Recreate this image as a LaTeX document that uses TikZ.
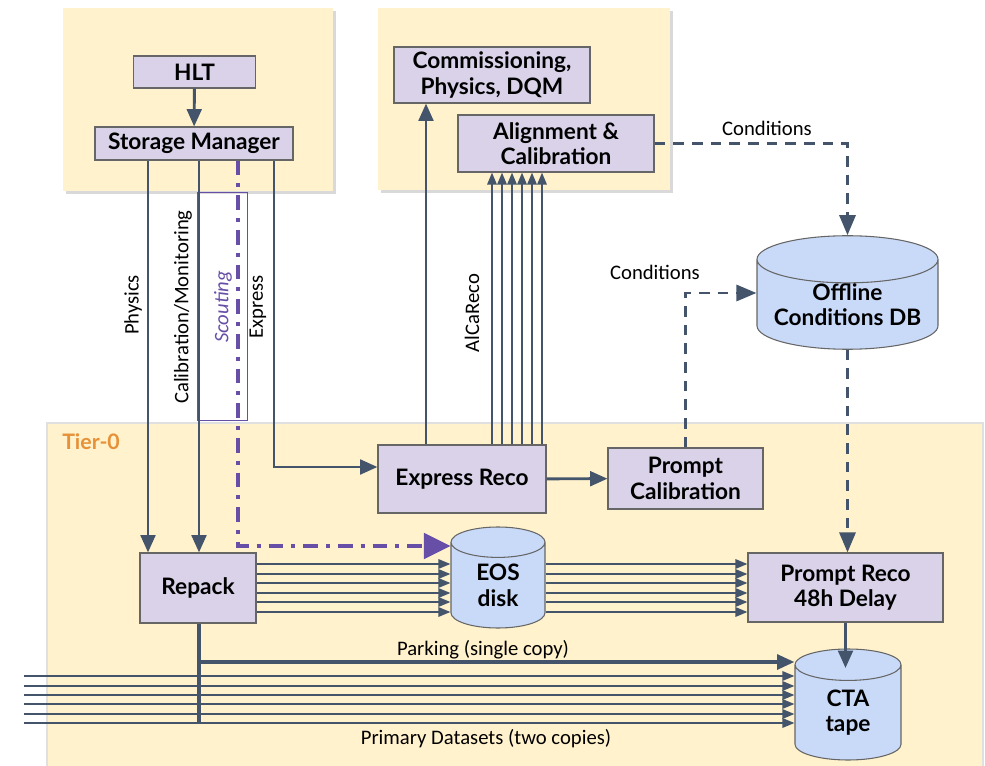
\documentclass[tikz,border=0pt]{standalone}
\usepackage{fontspec}
\setmainfont{Carlito}
\newfontfamily\boxfont{Lato}
\usepackage{tikz}
\usetikzlibrary{arrows.meta,shapes.geometric,backgrounds}

\definecolor{panelfill}{HTML}{FFF2CC}
\definecolor{boxfill}{HTML}{D9D2E9}
\definecolor{boxline}{HTML}{666666}
\definecolor{cylfill}{HTML}{C9DAF8}
\definecolor{flow}{HTML}{44546A}
\definecolor{scout}{HTML}{674EA7}
\definecolor{tierorange}{HTML}{E69138}

\tikzset{
  procbox/.style={draw=boxline, fill=boxfill, line width=0.8pt, inner sep=0pt, align=center,
    font=\boxfont\bfseries\fontsize{17}{19}\selectfont},
  store/.style={cylinder, shape border rotate=90, aspect=0.7, anchor=shape center, draw=boxline, fill=cylfill,
    line width=0.8pt, inner sep=0pt, align=center, font=\boxfont\bfseries\fontsize{17}{19}\selectfont},
  flowline/.style={draw=flow, line width=2.2pt},
  flowarrow/.style={flowline, -{Triangle[length=13pt,width=11pt]}},
  bundle/.style={draw=flow, line width=1.5pt, -{Triangle[length=9pt,width=7pt]}},
  conddash/.style={draw=flow, line width=2.2pt, dash pattern=on 8pt off 6pt, -{Triangle[length=15pt,width=12pt]}},
  scoutline/.style={draw=scout, line width=3pt, dash pattern=on 11pt off 6pt on 3pt off 6pt, -{Triangle[length=20pt,width=19pt]}},
  lbl/.style={font=\fontsize{15.5}{17}\selectfont, inner sep=0pt},
  vlbl/.style={lbl, rotate=90},
}

\begin{document}
\begin{tikzpicture}[x=0.75pt,y=0.75pt,yscale=-1,xscale=1]
\path[use as bounding box] (0,0) rectangle (985,766);

%Panels with shadow
\fill[black!15] (66,11) rectangle (336,194);
\fill[panelfill] (63,8) rectangle (333,191);
\fill[black!15] (381,11) rectangle (673,193);
\fill[panelfill] (378,8) rectangle (670,190);
\fill[black!12] (46,422) rectangle (984,766);
\fill[panelfill] (48,424) rectangle (982,766);

% Text Node
\node[anchor=west, inner sep=0pt, text=tierorange, font=\boxfont\bfseries\fontsize{16}{18}\selectfont] (tier) at (62,442) {Tier-0};

%Boxes
\node[procbox, minimum width=92pt, minimum height=24pt] (hlt) at (194.5,72) {HLT};
\node[procbox, minimum width=148.5pt, minimum height=24.75pt] (sm) at (194,143.5) {Storage Manager};
\node[procbox, minimum width=147pt, minimum height=42pt] (comm) at (492,75) {Commissioning,\\Physics, DQM};
\node[procbox, minimum width=147pt, minimum height=42.75pt] (align) at (556,143.5) {Alignment \&\\Calibration};
\node[procbox, minimum width=126pt, minimum height=51pt] (exreco) at (462,479) {Express Reco};
\node[procbox, minimum width=116.25pt, minimum height=45.75pt] (pcal) at (685.5,478.5) {Prompt\\Calibration};
\node[procbox, minimum width=87pt, minimum height=52.5pt] (repack) at (198,588) {Repack};
\node[procbox, minimum width=146.25pt, minimum height=51.75pt] (preco) at (845.5,587.5) {Prompt Reco\\48h Delay};

%Storage
\node[store, minimum width=70.5pt, minimum height=75.75pt] (eos) at (498,577.5) {EOS\\disk};
\node[store, minimum width=79.5pt, minimum height=83.25pt] (cta) at (848,704.5) {CTA\\tape};
\node[store, aspect=0.32, minimum width=135.75pt, minimum height=83.25pt] (db) at (847.5,292.5) {Offline\\Conditions DB};

%Helper coordinates
\coordinate (physx) at (148,0);
\coordinate (calx) at (199,0);
\coordinate (scoutx) at (238,0);
\coordinate (expx) at (274,0);
\coordinate (expy) at (0,467);
\coordinate (scouty) at (0,546);
\coordinate (commx) at (426,0);
\coordinate (condy) at (0,293);
\coordinate (parkx) at (199,0);
\coordinate (parky) at (0,662);
\coordinate (pdlast) at (0,723);
\coordinate (pdsrc) at (24,0);
\coordinate (ctatop) at (0,668);

%Scouting frame
\draw[scout, line width=0.6pt] (197,192) rectangle (247,420);

%Storage manager streams
\draw[flowarrow] (hlt) -- (sm);
\draw[flowarrow] (sm.south -| physx) -- (repack.north -| physx);
\draw[flowarrow] (sm.south -| calx) -- (repack.north -| calx);
\draw[scoutline] (sm.south -| scoutx) |- (eos.west |- scouty);
\draw[flowarrow] (sm.south -| expx) |- (exreco.west |- expy);

% Text Node
\node[vlbl] (physlbl) at (133,305) {Physics};
\node[vlbl] (callbl) at (183,307) {Calibration/Monitoring};
\node[vlbl, text=scout, font=\itshape\fontsize{15.5}{17}\selectfont] (scoutlbl) at (223,307) {Scouting};
\node[vlbl] (explbl) at (258,307) {Express};

%Express path
\draw[flowarrow] (exreco.north -| commx) -- (comm.south -| commx);
\foreach \x in {492,502,...,542}
  \draw[bundle] (exreco.north -| \x,0) -- (align.south -| \x,0);
\node[vlbl] (alcalbl) at (472,313) {AlCaReco};
\draw[flowarrow] (exreco) -- (pcal);

%Conditions
\draw[conddash] (align.east) -| (db.north);
\node[lbl] (condA) at (767,128) {Conditions};
\draw[conddash] (pcal.north) |- (db.west |- condy);
\node[lbl] (condB) at (655,272) {Conditions};
\draw[conddash] (db.south) -- (db.south |- preco.north);

%Repack bundles
\foreach \y in {564,574,583,593,602,612}{
  \draw[bundle] (repack.east |- 0,\y) -- (eos.west |- 0,\y);
  \draw[bundle] (eos.east |- 0,\y) -- (preco.west |- 0,\y);
}
\draw[flowarrow] (preco.south) -- (preco.south |- ctatop);

%Parking and primary datasets
\draw[flowline, line width=2.8pt] (repack.south -| parkx) -- (parkx |- pdlast);
\draw[flowarrow, line width=2.8pt] (parkx |- parky) -- (cta.west |- parky);
\node[lbl] (parklbl) at (483,650) {Parking (single copy)};
\foreach \y in {676,686,695,704,714,723}
  \draw[bundle] (pdsrc |- 0,\y) -- (cta.west |- 0,\y);
\node[lbl] (pdlbl) at (486,739) {Primary Datasets (two copies)};

\end{tikzpicture}
\end{document}
